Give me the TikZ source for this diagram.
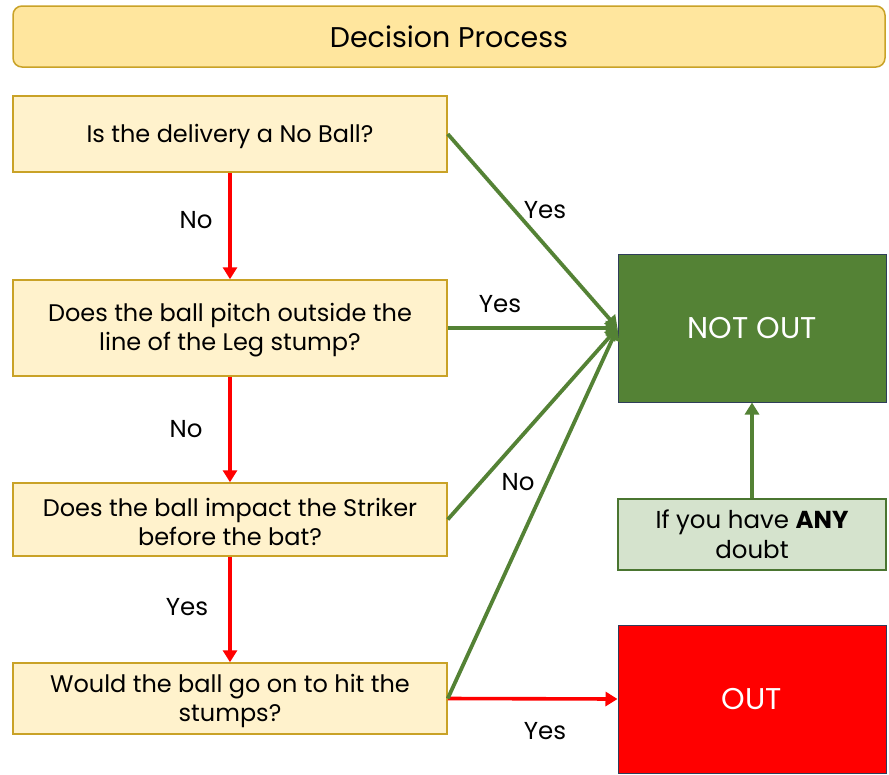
\documentclass[tikz,border=0pt]{standalone}
\usepackage{fontspec}
\setmainfont{Poppins}
\usetikzlibrary{arrows.meta}
\definecolor{goldfill}{HTML}{FFE69E}
\definecolor{qfill}{HTML}{FFF2CC}
\definecolor{goldline}{HTML}{C9A227}
\definecolor{okgreen}{HTML}{548235}
\definecolor{doubtfill}{HTML}{D5E3CD}
\definecolor{doubtline}{HTML}{4A7530}
\definecolor{navyline}{HTML}{2F3D5A}
\definecolor{outred}{HTML}{FF0000}
\tikzset{
  qbox/.style={draw=goldline, fill=qfill, line width=1.5pt, minimum width=434pt, inner sep=0pt},
  qtext/.style={align=center, font=\fontsize{24}{29}\selectfont, inner sep=0pt, yshift=-2.5pt},
  titlebox/.style={draw=goldline, fill=goldfill, line width=1.5pt, rounded corners=9pt, minimum width=872pt, minimum height=61pt, font=\fontsize{28.5}{32}\selectfont},
  resbox/.style={draw=navyline, line width=1pt, minimum width=268pt, minimum height=148pt, text=white, font=\fontsize{30}{34}\selectfont},
  doubtbox/.style={draw=doubtline, fill=doubtfill, line width=1.5pt, minimum width=268pt, minimum height=71pt, align=center, inner sep=0pt, font=\fontsize{24.5}{30}\selectfont},
  redarr/.style={draw=outred, line width=3.6pt, -{Triangle[length=12pt,width=14pt]}},
  greenarr/.style={draw=okgreen, line width=3.8pt, -{Triangle[length=12pt,width=14pt]}},
  lbl/.style={font=\fontsize{24.5}{29}\selectfont, inner sep=0pt}
}
\begin{document}
\begin{tikzpicture}[x=1pt,y=-1pt]
\useasboundingbox (0,0) rectangle (889,774);
\node[titlebox] (title) at (449,36.5) {Decision Process};
\node[qbox, minimum height=76pt, label={[qtext]center:Is the delivery a No Ball?}] (q1) at (230,134) {};
\node[qbox, minimum height=96pt, label={[qtext]center:{Does the ball pitch outside the\\line of the Leg stump?}}] (q2) at (230,328) {};
\node[qbox, minimum height=73pt, label={[qtext]center:{Does the ball impact the Striker\\before the bat?}}] (q3) at (230,519.5) {};
\node[qbox, minimum height=71pt, label={[qtext]center:{Would the ball go on to hit the\\stumps?}}] (q4) at (230,698.5) {};
\node[resbox, fill=okgreen] (notout) at (752,328) {NOT OUT};
\node[doubtbox] (doubt) at (752,534.5) {If you have \textbf{ANY}\\doubt};
\node[resbox, fill=outred] (out) at (752,699) {OUT};

\draw[redarr] (q1.south) -- (q2.north);
\draw[redarr] (q2.south) -- (q3.north);
\draw[redarr] (q3.south) -- (q4.north);
\draw[redarr] (q4.east) -- (out.west);

\draw[greenarr] (q1.east) -- (notout.west);
\draw[greenarr] (q2.east) -- (notout.west);
\draw[greenarr] (q3.east) -- (notout.west);
\draw[greenarr] (q4.east) -- (notout.west);
\draw[greenarr] (doubt.north) -- (notout.south);

\node[lbl] (l1) at (196,220) {No};
\node[lbl] (l2) at (186,429) {No};
\node[lbl] (l3) at (187,607) {Yes};
\node[lbl] (l4) at (545,210) {Yes};
\node[lbl] (l5) at (500,304) {Yes};
\node[lbl] (l6) at (518,482) {No};
\node[lbl] (l7) at (545,731) {Yes};
\end{tikzpicture}
\end{document}
